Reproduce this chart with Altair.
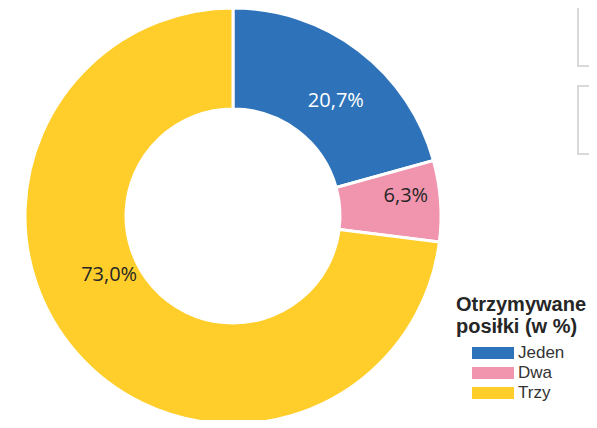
import altair as alt
import pandas as pd

categories = ["Jeden", "Dwa", "Trzy"]
values = [20.7, 6.3, 73.0]
labels = ["20,7%", "6,3%", "73,0%"]
colors = ["#2E73B9", "#F194AD", "#FFCE2B"]

df = pd.DataFrame({
    "category": categories,
    "value": values,
    "label": labels,
    "order": list(range(len(categories))),
})

CX, CY = 225, 208

color = alt.Color(
    "category:N",
    scale=alt.Scale(domain=categories, range=colors),
    sort=categories,
    legend=alt.Legend(
        title=["Otrzymywane", "posiłki (w %)"],
        orient="none",
        legendX=448,
        legendY=287,
        padding=0,
        titleFont="Liberation Sans",
        titleFontSize=20,
        titleFontWeight="bold",
        titleColor="#262626",
        titleLineHeight=22,
        titlePadding=7,
        symbolType="M-1,-0.29H1V0.29H-1Z",
        symbolSize=1764,
        symbolStrokeWidth=0,
        symbolOpacity=1,
        symbolOffset=16,
        labelOffset=4,
        labelFont="Liberation Sans",
        labelFontSize=17,
        labelColor="#333333",
        clipHeight=18,
        rowPadding=2,
    ),
)

base = alt.Chart(df)

arcs = base.mark_arc(
    innerRadius=107, outerRadius=208, stroke="white", strokeWidth=3
).encode(
    theta=alt.Theta("value:Q", stack=True),
    order=alt.Order("order:Q"),
    color=color,
    x=alt.value(CX),
    y=alt.value(CY),
)

label_style = {
    "Jeden": dict(radius=154, thetaOffset=0.081, color="white"),
    "Dwa": dict(radius=174, thetaOffset=-0.044, color="#262626"),
    "Trzy": dict(radius=137, thetaOffset=0.281, color="#262626"),
}

text_layers = []
for cat in categories:
    st = label_style[cat]
    t = base.transform_window(
        cum="sum(value)", sort=[alt.SortField("order")]
    ).transform_calculate(
        mid="datum.cum - datum.value / 2"
    ).transform_filter(
        alt.datum.category == cat
    ).mark_text(
        font="Open Sans", fontSize=20, color=st["color"],
        radius=st["radius"], thetaOffset=st["thetaOffset"],
        align="center", baseline="middle",
    ).encode(
        theta=alt.Theta("mid:Q", stack=None),
        text="label:N",
        x=alt.value(CX),
        y=alt.value(CY),
    )
    text_layers.append(t)

box1 = alt.Chart(df).mark_rect(
    fill=None, stroke="#d9d9d9", strokeWidth=2
).encode(x=alt.value(570), x2=alt.value(600), y=alt.value(-10), y2=alt.value(58))
box2 = alt.Chart(df).mark_rect(
    fill=None, stroke="#d9d9d9", strokeWidth=2
).encode(x=alt.value(570), x2=alt.value(600), y=alt.value(78), y2=alt.value(146))

chart = alt.layer(arcs, *text_layers, box1, box2).properties(
    width=581, height=412, padding=0, autosize=alt.AutoSizeParams(type="none")
).configure_view(stroke=None)

chart.save("out.html", embed_options={"renderer": "svg", "actions": False})
